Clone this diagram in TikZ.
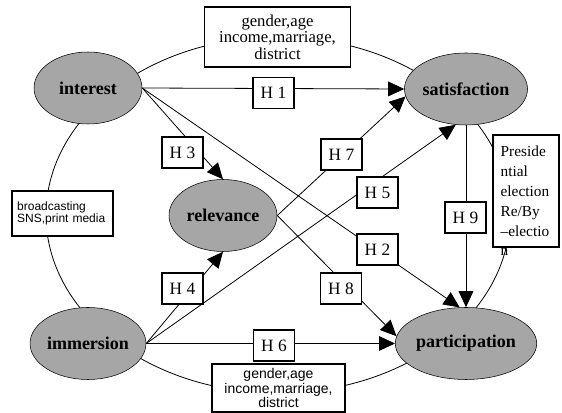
\documentclass[tikz,border=0pt]{standalone}
\usepackage{fontspec}
\setmainfont{Liberation Serif}
\setsansfont{Liberation Sans}
\usetikzlibrary{shapes.geometric, arrows.meta, positioning}

\begin{document}
\begin{tikzpicture}[
    x=0.75pt, y=-0.75pt,
    factor/.style={ellipse, draw, fill=gray!70, minimum width=81pt, minimum height=54pt, inner sep=0pt, font=\fontsize{13.5}{15}\selectfont\bfseries},
    hyp/.style={draw, fill=white, line width=0.8pt, minimum width=30.75pt, minimum height=23.25pt, inner sep=0pt, font=\fontsize{13}{15}\selectfont},
    note/.style={draw, fill=white, line width=0.8pt, inner sep=0pt},
    arrow/.style={-{Triangle[length=12pt, width=11pt]}, line width=0.6pt},
    link/.style={line width=0.6pt}
  ]
    \useasboundingbox (0,0) rectangle (562,413);
    \draw[link] (278,215) ellipse [x radius=174pt, y radius=133.5pt];

    \node[factor] (interest) at (88,88) {interest};
    \node[factor] (satisfaction) at (466,89) {satisfaction};
    \node[factor] (relevance) at (223,215.5) {relevance};
    \node[factor] (immersion) at (88,343.5) {immersion};
    \node[factor] (participation) at (466,343.5) {participation};

    \draw[arrow] (interest.east) -- (satisfaction.west);
    \draw[arrow] (interest.east) -- (relevance.north);
    \draw[arrow] (interest.east) -- (participation.100);
    \draw[arrow] (immersion.east) -- (relevance.south);
    \draw[arrow] (immersion.east) -- (satisfaction.254);
    \draw[arrow] (immersion.east) -- (participation.west);
    \draw[arrow] (relevance.east) -- (satisfaction.187);
    \draw[arrow] (relevance.east) -- (participation.174);
    \draw[arrow] (satisfaction.south) -- (participation.north);

    \node[hyp] (h1) at (273.5,93) {H 1};
    \node[hyp] (h2) at (377.5,249.5) {H 2};
    \node[hyp] (h3) at (182.5,152.5) {H 3};
    \node[hyp] (h4) at (182.5,288.5) {H 4};
    \node[hyp] (h5) at (377.5,192.5) {H 5};
    \node[hyp] (h6) at (274,345.5) {H 6};
    \node[hyp] (h7) at (341.5,154.5) {H 7};
    \node[hyp] (h8) at (341,288.5) {H 8};
    \node[hyp] (h9) at (465.5,217.5) {H 9};

    \node[note, minimum width=110pt, minimum height=45pt, align=center, font=\fontsize{12.5}{12.5}\selectfont] (controlstop) at (277.5,37) {gender,age\\income,marriage,\\district};
    \node[note, minimum width=99.75pt, minimum height=36pt, align=center, font=\sffamily\fontsize{10.5}{9.75}\selectfont] (controlsbottom) at (278.5,388) {gender,age\\income,marriage,\\district};
    \node[note, minimum width=75.75pt, minimum height=33.75pt, text width=68pt, align=left, font=\sffamily\fontsize{9}{7.5}\selectfont] (media) at (62.5,213.5) {broadcasting\\SNS,print media};
    \node[note, minimum width=49.5pt, minimum height=84pt, text width=38pt, align=left, font=\fontsize{11.5}{15}\selectfont,
      label={[anchor=north west, inner sep=0pt, xshift=6pt, yshift=-0.5pt, font=\fontsize{11.5}{15}\selectfont]south west:n}] (election) at (526,191) {Preside\\ntial\\election\\Re/By\\--electio};
  \end{tikzpicture}
\end{document}
